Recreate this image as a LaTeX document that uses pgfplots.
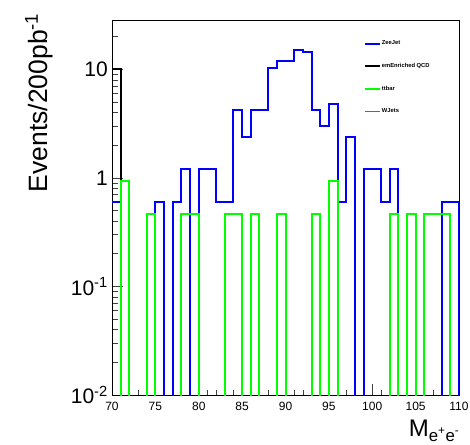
\documentclass[border=0pt]{standalone}
\usepackage{pgfplots}
\pgfplotsset{compat=1.18}
\usepackage{pgfplotstable}
\usepackage{fontspec}
\setmainfont{Liberation Sans}
\definecolor{rootblue}{RGB}{0,0,255}
\definecolor{rootgreen}{RGB}{0,255,0}
\definecolor{rootmagenta}{RGB}{255,0,255}

% bin left edge, content per bin (0.0001 = empty bin)
\pgfplotstableread{
x zee qcd tt wj
70 0.6 10 0.0001 0.0001
71 0.0001 0.0001 0.94 0.0001
72 0.0001 0.0001 0.0001 0.0001
73 0.0001 0.0001 0.0001 0.0001
74 0.0001 0.0001 0.47 0.0001
75 0.6 0.0001 0.0001 0.0001
76 0.0001 0.0001 0.0001 0.0001
77 0.6 0.0001 0.0001 0.0001
78 1.2 0.0001 0.47 0.0001
79 0.0001 0.0001 0.47 0.0001
80 1.2 0.0001 0.0001 0.0001
81 1.2 0.0001 0.0001 0.0001
82 0.6 0.0001 0.0001 0.0001
83 0.6 0.0001 0.47 0.0001
84 4.2 0.0001 0.47 0.0001
85 2.4 0.0001 0.0001 0.0001
86 4.2 0.0001 0.47 0.0001
87 4.2 0.0001 0.0001 0.0001
88 10.2 0.0001 0.0001 0.0001
89 12.0 0.0001 0.47 0.0001
90 12.0 0.0001 0.0001 0.0001
91 15.0 0.0001 0.0001 0.0001
92 14.4 0.0001 0.0001 0.0001
93 4.2 0.0001 0.47 0.0001
94 3.0 0.0001 0.0001 0.0001
95 4.8 0.0001 0.94 0.0001
96 0.6 0.0001 0.0001 0.0001
97 2.4 0.0001 0.0001 0.0001
98 0.0001 0.0001 0.0001 0.0001
99 1.2 0.0001 0.0001 0.0001
100 1.2 0.0001 0.0001 0.0001
101 0.6 0.0001 0.0001 0.0001
102 1.2 0.0001 0.47 0.0001
103 0.0001 0.0001 0.0001 0.0001
104 0.0001 0.0001 0.47 0.0001
105 0.0001 0.0001 0.0001 0.0001
106 0.0001 0.0001 0.47 0.0001
107 0.0001 0.0001 0.47 0.0001
108 0.6 0.0001 0.47 0.0001
109 0.6 0.0001 0.0001 0.0001
110 0.0001 0.0001 0.0001 0.0001
}\hist

\begin{document}
\begin{tikzpicture}
\useasboundingbox (0,0) rectangle (470pt,444pt);
\begin{axis}[
  at={(112pt,49pt)}, anchor=south west,
  scale only axis, width=347pt, height=375pt,
  ymode=log,
  xmin=70, xmax=110, ymin=0.01, ymax=28.5,
  axis line style={line width=0.8pt, black},
  tick align=inside, xtick pos=bottom, ytick pos=left,
  xtick={70,75,...,110},
  minor xtick={71,72,...,109},
  ytick={0.01,0.1,1,10},
  yticklabels={10\textsuperscript{-2},10\textsuperscript{-1},1,10},
  minor ytick={0.02,0.03,0.04,0.05,0.06,0.07,0.08,0.09,0.2,0.3,0.4,0.5,0.6,0.7,0.8,0.9,2,3,4,5,6,7,8,9,20},
  major tick length=11pt, minor tick length=5.5pt,
  every tick/.style={black!75, line width=0.7pt},
  /pgf/number format/assume math mode=true,
  xticklabel style={font=\fontsize{12}{12}\selectfont, inner sep=0pt, yshift=-7pt},
  yticklabel style={font=\fontsize{21}{21}\selectfont, inner sep=0pt, xshift=-4pt},
  ylabel={Events/200pb\textsuperscript{-1}},
  ylabel style={font=\fontsize{26.5}{26.5}\selectfont, at={(axis description cs:-0.1873,1.0187)}, anchor=base east, inner sep=0pt},
  xlabel={M\textsubscript{e\textsuperscript{+}e\textsuperscript{-}}},
  xlabel style={font=\fontsize{24}{24}\selectfont, at={(axis description cs:1.003,-0.1113)}, anchor=base east, inner sep=0pt},
  legend cell align=left,
  legend style={at={(axis description cs:0.726,0.9475)}, anchor=north west, draw=none, fill=none,
    font=\fontsize{5.8}{6}\selectfont\bfseries, row sep=15pt, inner sep=0pt,
    nodes={inner sep=1pt}},
  legend image code/.code={\draw[#1, line width=1.8pt] (0pt,0pt) -- (15pt,0pt);},
  every axis plot/.append style={line width=2pt, const plot mark left, line join=miter},
]
\addplot[rootblue] table[x=x, y=zee] {\hist};
\addlegendentry{ZeeJet}
\addplot[black] table[x=x, y=qcd] {\hist};
\addlegendentry{emEnriched QCD}
\addplot[rootgreen] table[x=x, y=tt] {\hist};
\addlegendentry{ttbar}
\addplot[rootmagenta] table[x=x, y=wj] {\hist};
\addlegendentry{WJets}
\end{axis}
\end{tikzpicture}
\end{document}
